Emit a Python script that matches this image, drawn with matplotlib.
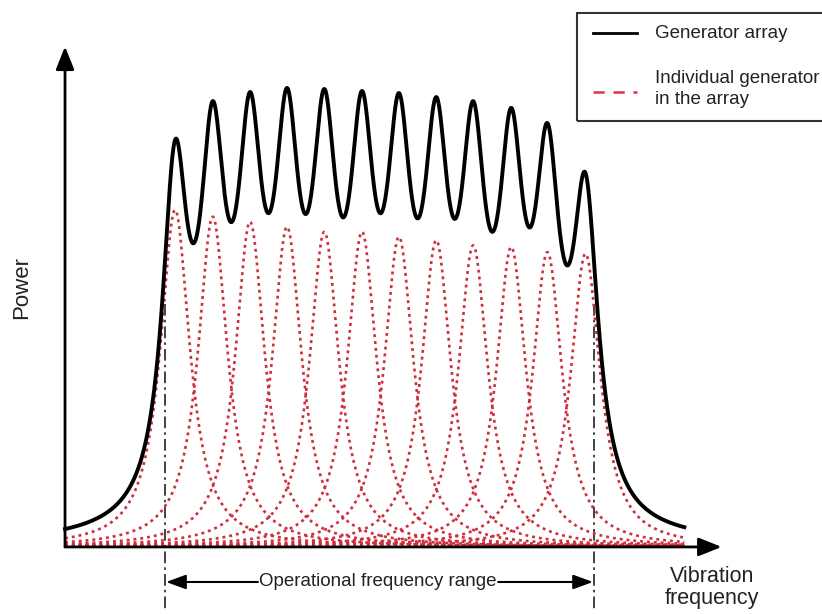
import numpy as np
import matplotlib
matplotlib.use("Agg")
import matplotlib.pyplot as plt
from matplotlib.patches import Rectangle
from matplotlib.lines import Line2D

plt.rcParams['font.family'] = ['Liberation Sans', 'DejaVu Sans']

# ---- data (arbitrary frequency / power units) ----
peak_freqs = [2.95, 3.96, 4.96, 5.95, 6.95, 7.96, 8.95, 9.95, 10.94, 11.96, 12.93, 13.95]
individual_peaks = [10.0, 9.8, 9.65, 9.5, 9.35, 9.35, 9.2, 9.1, 8.95, 8.9, 8.75, 8.7]
array_peaks = [12.08, 13.23, 13.5, 13.62, 13.59, 13.53, 13.47, 13.35, 13.23, 13.03, 12.58, 11.10]
individual_half_width = 0.48
array_half_width = 0.41
freq_start, freq_end = 0.0, 16.6
op_range = [2.68, 14.18]

legend_labels = ["Generator array", "Individual generator\nin the array"]
x_label = "Vibration\nfrequency"
y_label = "Power"
range_label = "Operational frequency range"

# ---- model ----
def resonance(f, f0, a, g):
    return a / (1.0 + ((f - f0) / g) ** 2)

f = np.linspace(freq_start, freq_end, 3000)
pf = np.array(peak_freqs)
M = 1.0 / (1.0 + ((pf[:, None] - pf[None, :]) / array_half_width) ** 2)
array_amps = np.linalg.solve(M, np.array(array_peaks))

fig = plt.figure(figsize=(8.22, 6.14), dpi=100)
ax = fig.add_axes([0, 0, 1, 1])
ax.set_xlim(-1.743, 20.29)
ax.set_ylim(-1.99, 16.23)
ax.axis('off')

red = '#cf2f3c'
for f0, a in zip(peak_freqs, individual_peaks):
    ax.plot(f, resonance(f, f0, a, individual_half_width), color=red, lw=1.9,
            ls=(0, (1.1, 1.5)), zorder=2)

total = np.zeros_like(f)
for f0, a in zip(peak_freqs, array_amps):
    total += resonance(f, f0, a, array_half_width)
ax.plot(f, total, color='black', lw=2.8, zorder=3, solid_joinstyle='round')

# axes arrows
head = dict(arrowstyle='-|>,head_length=0.7,head_width=0.28',
            mutation_scale=20, lw=2, color='black', shrinkA=0, shrinkB=0)
ax.annotate('', xy=(17.6, 0), xytext=(0, 0), arrowprops=head, zorder=4)
ax.annotate('', xy=(0, 14.85), xytext=(0, 0), arrowprops=head, zorder=4)

# operational range markers
for x0 in op_range:
    ax.plot([x0, x0], [7.2, -1.9], color='#222222', lw=1.2,
            ls=(0, (7, 2.5, 1.5, 2.5)), zorder=1)

y_arr = -1.04
tx_left, tx_right = 5.17, 11.61
arrow_kw = dict(arrowstyle='-|>,head_length=0.6,head_width=0.22',
                mutation_scale=20, lw=1.5, color='black', shrinkA=0, shrinkB=0)
ax.annotate('', xy=(op_range[0] + 0.03, y_arr), xytext=(tx_left, y_arr), arrowprops=arrow_kw)
ax.annotate('', xy=(op_range[1] - 0.03, y_arr), xytext=(tx_right, y_arr), arrowprops=arrow_kw)
ax.text((tx_left + tx_right) / 2, y_arr, range_label, ha='center', va='center',
        fontsize=13.5, color='#222222')

ax.text(17.35, -1.2, x_label, ha='center', va='center', fontsize=15.5,
        color='#222222', linespacing=1.1)
ax.text(-1.15, 7.7, y_label, ha='center', va='center', fontsize=16,
        rotation=90, color='#222222')

# legend (box runs off the right edge as in the reference)
W, H = 822.0, 614.0
def fx(px): return px / W
def fy(py): return 1 - py / H
fig.patches.append(Rectangle((fx(577), fy(121)), fx(830) - fx(577), fy(13) - fy(121),
                             transform=fig.transFigure, fill=False,
                             edgecolor='#333333', lw=1.5))
fig.lines.append(Line2D([fx(593), fx(637)], [fy(33), fy(33)], transform=fig.transFigure,
                        color='black', lw=2))
fig.lines.append(Line2D([fx(593), fx(637)], [fy(92), fy(92)], transform=fig.transFigure,
                        color='#e0304a', lw=1.8, ls=(0, (4.5, 3.5))))
fig.text(fx(655), fy(33), legend_labels[0], ha='left', va='center', fontsize=13.5,
         color='#222222')
fig.text(fx(655), fy(89), legend_labels[1], ha='left', va='center', fontsize=13.5,
         color='#222222', linespacing=1.25)

fig.savefig('out.png', dpi=100)
